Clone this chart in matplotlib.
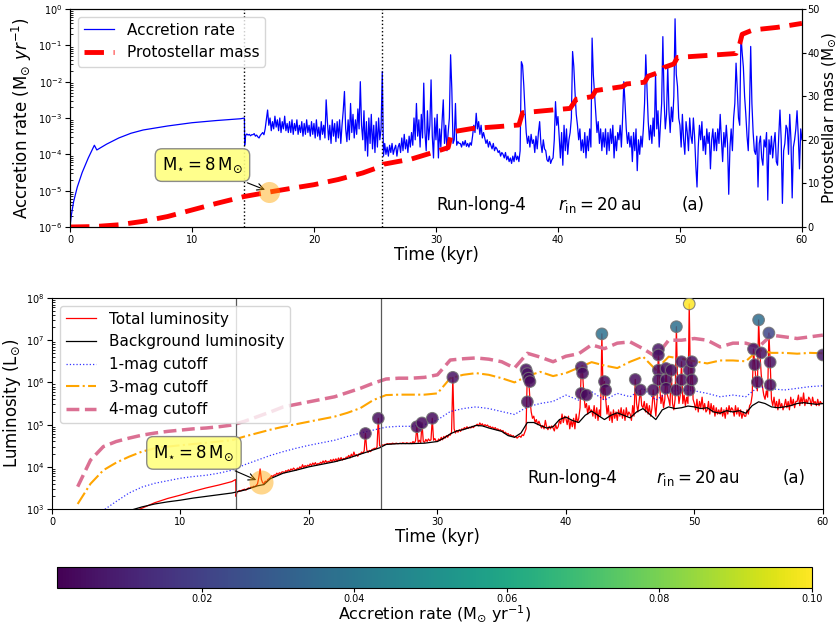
import numpy as np
import matplotlib.pyplot as plt
from matplotlib.colors import Normalize
from matplotlib.cm import ScalarMappable

# ---- accretion rate, log10(Msun/yr) ----
early_t = [0, 0.1, 0.3, 0.6, 1.0, 1.5, 2.0, 2.2, 3, 4, 5, 6, 8, 10, 12, 14, 14.3, 14.32]
early_lograte = [-6.0, -5.7, -5.3, -4.9, -4.5, -4.1, -3.75, -3.88, -3.72, -3.55,
                 -3.42, -3.33, -3.22, -3.13, -3.07, -3.02, -3.0, -3.75]

# 0.1 kyr steps from 14.4 kyr to 60 kyr (one row per kyr)
burst_lograte = [
    -3.48, -3.44, -3.47, -3.45, -3.49, -3.46,
    -3.46, -3.43, -3.50, -3.47, -3.52, -3.55, -3.48, -3.44, -3.40, -3.46,
    -3.30, -3.05, -2.78, -3.20, -3.00, -3.35, -3.10, -3.30, -2.95, -3.25,
    -3.05, -3.35, -3.00, -3.40, -3.10, -3.30, -2.95, -3.35, -3.15, -3.40,
    -3.10, -3.40, -3.05, -3.45, -3.15, -3.35, -3.05, -3.45, -3.20, -3.40,
    -3.10, -3.50, -3.15, -3.45, -3.05, -3.40, -3.20, -3.50, -3.10, -3.45,
    -3.15, -3.55, -3.05, -3.50, -3.25, -3.60, -3.10, -3.45, -3.20, -3.55,
    -2.50, -3.10, -3.60, -3.20, -3.70, -3.05, -3.50, -3.15, -3.65, -3.10,
    -3.55, -3.05, -3.70, -3.20, -2.80, -2.27, -3.30, -3.65, -3.05, -3.60,
    -2.60, -3.40, -2.90, -3.55, -3.05, -3.45, -2.75, -3.30, -2.00, -3.20,
    -3.60, -2.80, -3.90, -3.10, -4.05, -3.00, -3.70, -2.90, -3.85, -3.20,
    -3.95, -3.10, -3.80, -3.00, -3.60, -3.30, -1.72, -4.05, -3.70, -4.00,
    -3.80, -4.05, -3.75, -3.95, -3.70, -4.00, -3.85, -3.75, -4.05, -3.80,
    -3.70, -3.95, -3.55, -3.90, -3.45, -3.85, -3.60, -3.95, -3.50, -3.80,
    -3.40, -3.75, -3.00, -3.60, -2.60, -3.50, -3.05, -3.80, -2.90, -3.55,
    -2.04, -3.40, -3.90, -2.80, -3.60, -3.20, -1.95, -3.50, -4.10, -3.00,
    -3.60, -2.90, -4.10, -3.30, -3.80, -3.10, -2.50, -3.70, -3.20, -3.90,
    -3.40, -3.00, -1.26, -2.20, -3.70, -3.60, -2.60, -3.75, -3.65, -3.70,
    -3.70, -3.80, -3.65, -3.75, -3.62, -3.78, -3.70, -3.80, -3.68, -3.75,
    -3.50, -3.20, -3.40, -2.87, -3.30, -3.10, -3.45, -3.20, -3.55, -3.40,
    -3.55, -3.70, -3.60, -3.80, -3.65, -3.75, -3.85, -3.70, -3.90, -3.80,
    -3.85, -3.95, -3.90, -4.05, -3.95, -4.00, -4.10, -3.95, -4.15, -4.05,
    -4.20, -4.10, -4.25, -4.05, -4.20, -3.95, -4.15, -4.05, -4.20, -3.90,
    -1.45, -1.55, -2.10, -2.80, -3.40, -3.70, -3.50, -3.80, -3.45, -3.70,
    -3.60, -3.95, -3.50, -3.85, -3.40, -3.10, -3.70, -3.95, -3.60, -3.85,
    -3.90, -4.15, -4.20, -4.05, -4.25, -4.15, -4.10, -3.60, -2.55, -3.20,
    -2.96, -3.50, -4.10, -3.40, -4.30, -3.20, -3.90, -3.30, -4.00, -3.60,
    -3.40, -3.00, -1.17, -1.58, -2.30, -2.90, -3.20, -3.60, -3.30, -3.90,
    -3.60, -3.95, -3.40, -4.10, -3.50, -3.90, -3.30, -3.80, -0.80, -1.80,
    -2.32, -2.80, -3.40, -3.10, -3.70, -3.30, -3.90, -3.40, -3.80, -3.30,
    -4.00, -3.40, -3.90, -3.30, -3.70, -3.20, -4.10, -3.50, -3.90, -3.40,
    -3.60, -3.20, -3.80, -3.00, -2.00, -2.60, -3.30, -3.70, -3.40, -3.80,
    -3.50, -4.20, -3.40, -3.90, -3.30, -4.45, -3.60, -4.00, -3.50, -3.80,
    -3.30, -2.60, -1.26, -2.20, -3.10, -3.60, -3.20, -3.70, -3.00, -3.50,
    -1.77, -3.30, -2.80, -3.80, -3.20, -2.60, -0.76, -2.50, -3.30, -2.90,
    -1.58, -2.80, -3.40, -2.70, -3.10, -2.40, -0.27, -1.80, -2.13, -3.00,
    -3.20, -3.80, -2.90, -3.60, -4.00, -3.10, -3.40, -3.90, -3.00, -3.50,
    -3.70, -3.00, -3.50, -4.30, -4.90, -3.80, -3.20, -3.60, -3.10, -3.90,
    -3.50, -4.00, -3.30, -3.70, -3.40, -4.40, -3.60, -3.30, -3.90, -3.40,
    -3.90, -3.30, -3.70, -2.90, -3.60, -4.20, -3.40, -3.80, -3.20, -3.70,
    -5.10, -3.80, -3.30, -3.90, -3.00, -2.60, -1.49, -2.20, -3.00, -3.20,
    -0.71, -1.20, -1.60, -2.40, -2.90, -3.50, -3.90, -2.80, -1.03, -2.60,
    -3.40, -3.90, -4.00, -3.50, -4.90, -3.70, -3.50, -4.10, -4.30, -3.60,
    -3.80, -3.40, -5.26, -3.60, -4.00, -3.50, -4.10, -3.70, -3.40, -4.20,
    -4.30, -3.50, -2.78, -3.60, -5.35, -3.90, -3.70, -3.20, -3.30, -4.00,
    -2.90, -3.60, -5.20, -3.80, -3.60, -3.30, -2.80, -3.50, -4.40, -3.30,
    -3.60,
]

# ---- protostellar mass (Msun) ----
mass_t = [0, 2, 4, 6, 8, 10, 12, 14.3, 16.3, 18, 20, 22, 24, 25.5, 25.7, 28, 30,
          31.0, 31.3, 33, 35, 36.8, 37.1, 39, 41, 41.5, 42.8, 43.1, 45.3, 45.6,
          47.1, 47.4, 48.5, 48.7, 49.5, 49.8, 52, 54.6, 54.9, 55.1, 55.8, 56, 58, 60]
mass = [0, 0.1, 0.5, 1.3, 2.4, 3.9, 5.4, 7.0, 8.0, 8.8, 9.7, 10.9, 12.4, 13.9, 14.4,
        15.6, 17.3, 18.2, 21.8, 22.6, 23.0, 23.4, 26.2, 26.7, 27.2, 29.3, 29.9, 31.3,
        32.2, 32.8, 33.2, 34.6, 35.7, 36.6, 37.4, 38.9, 39.3, 39.8, 42.0, 44.2, 45.0,
        45.2, 45.8, 46.7]

# ---- luminosities, log10(Lsun) ----
early_lum_t = [6, 7, 8, 9, 10, 11, 12, 13, 14, 14.3, 14.32]
early_loglum = [2.9, 3.02, 3.15, 3.25, 3.33, 3.42, 3.5, 3.57, 3.65, 3.70, 3.30]

# 0.1 kyr steps from 14.4 kyr to 60 kyr
burst_loglum = [
    3.40, 3.42, 3.44, 3.43, 3.45, 3.46,
    3.47, 3.45, 3.48, 3.50, 3.49, 3.52, 3.51, 3.54, 3.53, 3.56,
    3.60, 3.75, 3.95, 3.70, 3.62, 3.60, 3.66, 3.64, 3.70, 3.72,
    3.75, 3.79, 3.77, 3.81, 3.80, 3.85, 3.82, 3.86, 3.84, 3.88,
    3.88, 3.86, 3.91, 3.89, 3.93, 3.90, 3.95, 3.92, 3.97, 3.94,
    3.92, 3.97, 3.95, 4.00, 3.96, 4.05, 3.98, 4.03, 4.00, 4.04,
    4.02, 4.07, 4.03, 4.09, 4.05, 4.10, 4.04, 4.08, 4.06, 4.11,
    4.08, 4.14, 4.09, 4.15, 4.10, 4.13, 4.11, 4.17, 4.12, 4.18,
    4.14, 4.19, 4.13, 4.21, 4.15, 4.22, 4.16, 4.20, 4.18, 4.23,
    4.22, 4.27, 4.21, 4.30, 4.24, 4.35, 4.26, 4.29, 4.25, 4.31,
    4.30, 4.35, 4.32, 4.38, 4.79, 4.40, 4.34, 4.39, 4.36, 4.41,
    4.42, 4.44, 4.43, 4.47, 5.15, 4.50, 4.48, 4.52, 4.51, 4.53,
    4.53, 4.55, 4.54, 4.55, 4.54, 4.56, 4.55, 4.55, 4.56, 4.55,
    4.55, 4.56, 4.55, 4.57, 4.56, 4.55, 4.57, 4.56, 4.55, 4.57,
    4.55, 4.60, 4.56, 4.62, 4.95, 4.58, 4.63, 4.57, 5.04, 4.60,
    4.58, 4.65, 4.60, 4.66, 4.62, 4.64, 5.15, 4.63, 4.67, 4.61,
    4.60, 4.66, 4.62, 4.70, 4.64, 4.72, 4.68, 4.74, 4.70, 4.76,
    4.75, 4.82, 6.12, 4.90, 4.80, 4.86, 4.82, 4.88, 4.84, 4.90,
    4.88, 4.93, 4.90, 4.95, 4.91, 4.94, 4.92, 4.96, 4.93, 4.97,
    4.98, 5.01, 4.97, 5.04, 4.99, 5.02, 4.96, 5.00, 4.97, 4.99,
    4.94, 4.96, 4.92, 4.94, 4.90, 4.93, 4.88, 4.90, 4.86, 4.88,
    4.84, 4.86, 4.80, 4.82, 4.77, 4.79, 4.74, 4.76, 4.72, 4.74,
    4.70, 4.72, 4.68, 4.71, 4.73, 4.70, 4.76, 4.74, 4.82, 4.90,
    6.27, 6.10, 5.60, 5.30, 5.15, 5.20, 5.05, 5.12, 5.00, 5.08,
    5.00, 4.92, 4.98, 4.90, 5.10, 4.95, 4.88, 4.96, 4.90, 4.97,
    4.92, 4.85, 5.00, 4.90, 4.95, 5.10, 5.02, 5.25, 5.05, 5.20,
    5.15, 5.00, 5.20, 4.90, 5.10, 4.95, 5.15, 4.90, 5.25, 5.05,
    5.15, 5.40, 6.36, 6.22, 5.70, 5.40, 5.50, 5.25, 5.45, 5.30,
    5.35, 5.20, 5.45, 5.15, 5.40, 5.10, 5.35, 5.20, 7.15, 5.60,
    6.02, 5.60, 5.25, 5.45, 5.10, 5.30, 5.05, 5.35, 5.15, 5.30,
    5.10, 5.35, 5.20, 5.40, 5.15, 5.35, 5.10, 5.40, 5.20, 5.30,
    5.25, 5.10, 5.45, 5.20, 6.07, 5.50, 5.30, 5.55, 5.82, 5.45,
    5.40, 5.55, 5.30, 5.50, 5.25, 5.45, 5.20, 5.40, 5.82, 5.50,
    5.20, 5.60, 6.78, 5.90, 5.50, 5.70, 5.40, 5.60, 6.33, 5.70,
    5.60, 5.45, 6.29, 5.50, 5.35, 5.60, 7.32, 5.90, 5.50, 5.70,
    6.49, 5.50, 5.70, 5.45, 5.65, 5.50, 7.86, 5.80, 6.49, 5.60,
    5.50, 5.35, 5.60, 5.30, 5.55, 5.40, 5.65, 5.35, 5.50, 5.30,
    5.35, 5.55, 5.25, 5.50, 5.30, 5.45, 5.20, 5.40, 5.25, 5.35,
    5.25, 5.40, 5.20, 5.35, 5.15, 5.40, 5.25, 5.45, 5.30, 5.40,
    5.35, 5.20, 5.45, 5.25, 5.40, 5.20, 5.35, 5.15, 5.30, 5.20,
    5.20, 5.35, 5.25, 5.45, 5.50, 5.70, 6.79, 6.42, 6.00, 5.80,
    7.48, 6.70, 6.20, 5.90, 5.70, 5.60, 5.80, 5.65, 7.17, 6.48,
    5.60, 5.45, 5.65, 5.40, 5.55, 5.35, 5.60, 5.40, 5.50, 5.35,
    5.45, 5.60, 5.40, 5.55, 5.35, 5.65, 5.45, 5.60, 5.40, 5.55,
    5.55, 5.70, 5.45, 5.65, 5.50, 5.75, 5.45, 5.60, 5.50, 5.65,
    5.60, 5.45, 5.65, 5.50, 5.55, 5.45, 5.60, 5.45, 5.55, 5.50,
    5.50,
]

bg_t = [5, 6, 7, 8, 9, 10, 11, 12, 13, 14, 14.3, 15, 16, 16.5, 17, 18, 19, 20, 21,
        22, 23, 24, 25, 25.5, 26, 27, 28, 29, 30, 30.5, 31, 31.5, 32, 32.5, 33,
        33.5, 34, 34.5, 35, 35.5, 36, 36.5, 37, 37.5, 38, 38.5, 39, 39.5, 40,
        40.5, 41, 41.5, 42, 42.5, 43, 43.5, 44, 44.5, 45, 45.5, 46, 46.5, 47,
        47.5, 48, 48.5, 49, 49.5, 50, 50.5, 51, 51.5, 52, 52.5, 53, 53.5, 54,
        54.5, 55, 55.5, 56, 56.5, 57, 57.5, 58, 58.5, 59, 59.5, 60]
bg_loglum = [2.85, 2.96, 3.05, 3.12, 3.17, 3.21, 3.26, 3.30, 3.34, 3.38, 3.40, 3.45,
             3.55, 3.58, 3.72, 3.85, 3.92, 4.00, 4.06, 4.12, 4.20, 4.30, 4.40, 4.45,
             4.53, 4.55, 4.55, 4.56, 4.60, 4.68, 4.78, 4.85, 4.88, 4.93, 4.98, 4.97,
             4.92, 4.88, 4.84, 4.74, 4.70, 4.80, 5.05, 5.05, 4.98, 4.92, 4.95, 5.12,
             5.18, 5.10, 5.05, 5.22, 5.32, 5.22, 5.12, 5.22, 5.28, 5.22, 5.16, 5.30,
             5.38, 5.25, 5.12, 5.35, 5.42, 5.38, 5.40, 5.44, 5.42, 5.38, 5.40, 5.30,
             5.27, 5.33, 5.30, 5.33, 5.27, 5.45, 5.54, 5.50, 5.42, 5.40, 5.42, 5.45,
             5.50, 5.52, 5.50, 5.48, 5.50]

cut_t = list(range(2, 61))
cut1_loglum = [2.55, 2.78, 2.97, 3.18, 3.38, 3.52, 3.61, 3.67, 3.73, 3.77, 3.80, 3.85,
               3.92, 4.05, 4.16, 4.27, 4.36, 4.44, 4.51, 4.57, 4.63, 4.72, 4.80, 4.87,
               4.94, 4.96, 4.96, 5.00, 5.11, 5.31, 5.38, 5.42, 5.38, 5.31, 5.24, 5.42,
               5.50, 5.55, 5.70, 5.58, 5.78, 5.58, 5.74, 5.66, 5.86, 5.58, 5.78, 5.82,
               5.80, 5.74, 5.66, 5.70, 5.66, 5.90, 5.85, 5.82, 5.86, 5.90, 5.92]
cut3_loglum = [3.12, 3.60, 3.92, 4.10, 4.24, 4.36, 4.44, 4.48, 4.51, 4.54, 4.57, 4.60,
               4.63, 4.72, 4.80, 4.88, 4.95, 5.01, 5.07, 5.13, 5.19, 5.28, 5.39, 5.58,
               5.70, 5.71, 5.71, 5.71, 5.74, 6.10, 6.18, 6.22, 6.18, 6.10, 6.00, 6.15,
               6.25, 6.15, 6.22, 6.35, 6.48, 6.40, 6.34, 6.49, 6.61, 6.30, 6.61, 6.56,
               6.50, 6.45, 6.52, 6.52, 6.50, 6.77, 6.70, 6.70, 6.68, 6.70, 6.69]
cut4_loglum = [3.53, 4.16, 4.48, 4.60, 4.68, 4.75, 4.80, 4.84, 4.87, 4.90, 4.92, 4.95,
               4.99, 5.08, 5.19, 5.30, 5.42, 5.48, 5.54, 5.60, 5.66, 5.76, 5.86, 5.98,
               6.08, 6.10, 6.10, 6.12, 6.18, 6.53, 6.56, 6.58, 6.55, 6.49, 6.34, 6.69,
               6.60, 6.49, 6.62, 6.68, 6.89, 6.80, 6.93, 6.96, 6.80, 6.61, 7.00, 7.00,
               7.04, 7.00, 6.84, 6.93, 6.93, 6.84, 7.12, 7.08, 7.04, 7.08, 7.12]

# ---- detected bursts: time, log10 L, accretion rate ----
dot_t = [24.4, 25.4, 28.4, 28.8, 29.6, 31.2, 36.9, 37.0, 37.1, 37.2, 37.0, 41.2,
         41.3, 41.2, 41.6, 42.8, 43.0, 43.1, 45.4, 45.8, 47.2, 47.2, 47.2, 47.2,
         46.8, 47.8, 47.8, 47.8, 48.2, 48.6, 48.6, 49.0, 49.0, 49.6, 49.6, 49.6,
         49.8, 49.8, 55.0, 55.8, 54.6, 55.2, 54.7, 55.9, 54.9, 55.9, 60.0]
dot_loglum = [4.79, 5.15, 4.95, 5.04, 5.15, 6.12, 6.30, 6.21, 6.10, 6.02, 5.54, 6.36,
              6.22, 5.74, 5.70, 7.15, 6.02, 5.82, 6.07, 5.82, 6.78, 6.65, 6.29, 6.06,
              5.82, 6.33, 6.06, 5.86, 6.29, 7.32, 5.82, 6.49, 6.06, 7.86, 6.29, 5.82,
              6.49, 6.06, 7.48, 7.17, 6.79, 6.70, 6.42, 6.48, 6.01, 5.94, 6.65]
dot_rate = [0.003, 0.004, 0.003, 0.003, 0.004, 0.006, 0.004, 0.005, 0.004, 0.003,
            0.003, 0.005, 0.004, 0.003, 0.003, 0.038, 0.004, 0.003, 0.004, 0.003,
            0.006, 0.005, 0.004, 0.004, 0.003, 0.004, 0.003, 0.003, 0.004, 0.037,
            0.003, 0.005, 0.004, 0.100, 0.005, 0.004, 0.005, 0.004, 0.036, 0.022,
            0.006, 0.005, 0.004, 0.005, 0.004, 0.004, 0.008]

outburst_edges = [14.3, 25.6]
cbar_ticks = [0.02, 0.04, 0.06, 0.08, 0.10]

# ---- assemble series ----
t_burst = 14.4 + 0.1 * np.arange(len(burst_lograte))
time_rate = np.concatenate([early_t, t_burst])
rate = 10 ** np.concatenate([early_lograte, burst_lograte])
t_lum = 14.4 + 0.1 * np.arange(len(burst_loglum))
time_lum = np.concatenate([early_lum_t, t_lum])
lum_tot = 10 ** np.concatenate([early_loglum, burst_loglum])

fig = plt.figure(figsize=(8.37, 6.30), dpi=100)
ax = fig.add_axes([0.0836, 0.6397, 0.8745, 0.346])
ax2 = ax.twinx()
axb = fig.add_axes([0.0621, 0.192, 0.921, 0.335])
cax = fig.add_axes([0.068, 0.0667, 0.902, 0.0333])

box_style = dict(boxstyle='round,pad=0.4', fc='#ffff80', ec='0.5', alpha=0.9)
star_txt = r'$\mathrm{M_{\star}=8\,M_{\odot}}$'

# ---------------- top panel ----------------
l1, = ax.plot(time_rate, rate, color='blue', lw=0.9, label='Accretion rate')
ax.set_yscale('log')
ax.set_ylim(1e-6, 1)
ax.set_xlim(0, 60)
for te in outburst_edges:
    ax.axvline(te, color='k', ls=':', lw=1)
ax.set_xlabel('Time (kyr)', fontsize=12, labelpad=1)
ax.set_ylabel(r'Accretion rate (M$_{\odot}$ $yr^{-1}$)', fontsize=12, labelpad=3)
ax.tick_params(labelsize=7, pad=2)
ax.tick_params(which='minor', direction='in')

l2, = ax2.plot(mass_t, mass, color='red', lw=3.5, ls=(0, (4, 2)), label='Protostellar mass')
ax2.set_ylim(0, 50)
ax2.set_ylabel(r'Protostellar mass (M$_{\odot}$)', fontsize=11, labelpad=0)
ax2.tick_params(labelsize=7, pad=1, length=3)
ax2.scatter([16.3], [8.0], s=230, color='orange', alpha=0.45, lw=0, zorder=5)
ax2.annotate(star_txt, xy=(16.2, 8.3), xytext=(10.86, 14.2), fontsize=12,
             ha='center', va='center', bbox=box_style,
             arrowprops=dict(arrowstyle='->', color='k', lw=0.8))
ax2.legend(handles=[l1, l2], loc='upper left', fontsize=11, framealpha=0.8)

for txt, xf in [('Run-long-4', 0.50), (r'$r_{\rm in} = 20\,{\rm au}$', 0.667), ('(a)', 0.835)]:
    ax.text(xf, 0.10, txt, transform=ax.transAxes, fontsize=12, ha='left', va='center')

# ---------------- bottom panel ----------------
norm = Normalize(vmin=0.001, vmax=0.1)
axb.plot(time_lum, lum_tot, color='red', lw=0.9, label='Total luminosity')
axb.plot(bg_t, 10 ** np.array(bg_loglum), color='k', lw=0.9, label='Background luminosity')
axb.plot(cut_t, 10 ** np.array(cut1_loglum), color='blue', ls=':', lw=0.9, alpha=0.8,
         label='1-mag cutoff')
axb.plot(cut_t, 10 ** np.array(cut3_loglum), color='orange', ls='-.', lw=1.5,
         label='3-mag cutoff')
axb.plot(cut_t, 10 ** np.array(cut4_loglum), color='palevioletred', ls='--', lw=2.5,
         label='4-mag cutoff')
for te in outburst_edges:
    axb.axvline(te, color='0.35', ls='-', lw=0.9)
axb.scatter(dot_t, 10 ** np.array(dot_loglum), c=dot_rate, cmap='viridis', norm=norm,
            s=70, alpha=0.85, edgecolors='0.45', linewidths=0.8, zorder=6)
axb.scatter([16.3], [10 ** 3.64], s=300, color='orange', alpha=0.45, lw=0, zorder=4)
axb.annotate(star_txt, xy=(16.1, 10 ** 3.66), xytext=(11.05, 10 ** 4.33), fontsize=12,
             ha='center', va='center', bbox=box_style,
             arrowprops=dict(arrowstyle='->', color='k', lw=0.8))
axb.set_yscale('log')
axb.set_ylim(1e3, 1e8)
axb.set_xlim(0, 60)
axb.set_xlabel('Time (kyr)', fontsize=12, labelpad=1)
axb.set_ylabel(r'Luminosity (L$_{\odot}$)', fontsize=12, labelpad=2)
axb.tick_params(labelsize=7, pad=2)
axb.tick_params(which='minor', direction='in')
axb.legend(loc='upper left', fontsize=11, framealpha=0.8)
for txt, xf in [('Run-long-4', 0.617), (r'$r_{\rm in} = 20\,{\rm au}$', 0.783), ('(a)', 0.948)]:
    axb.text(xf, 0.147, txt, transform=axb.transAxes, fontsize=12, ha='left', va='center')

# ---------------- colorbar ----------------
cb = fig.colorbar(ScalarMappable(norm=norm, cmap='viridis'), cax=cax, orientation='horizontal')
cb.set_ticks(cbar_ticks)
cb.set_ticklabels(['%.2f' % v for v in cbar_ticks])
cb.ax.tick_params(labelsize=7, pad=1, length=3)
cb.set_label(r'Accretion rate (M$_{\odot}$ yr$^{-1}$)', fontsize=11.5, labelpad=0)

fig.savefig('out.png', dpi=100)
